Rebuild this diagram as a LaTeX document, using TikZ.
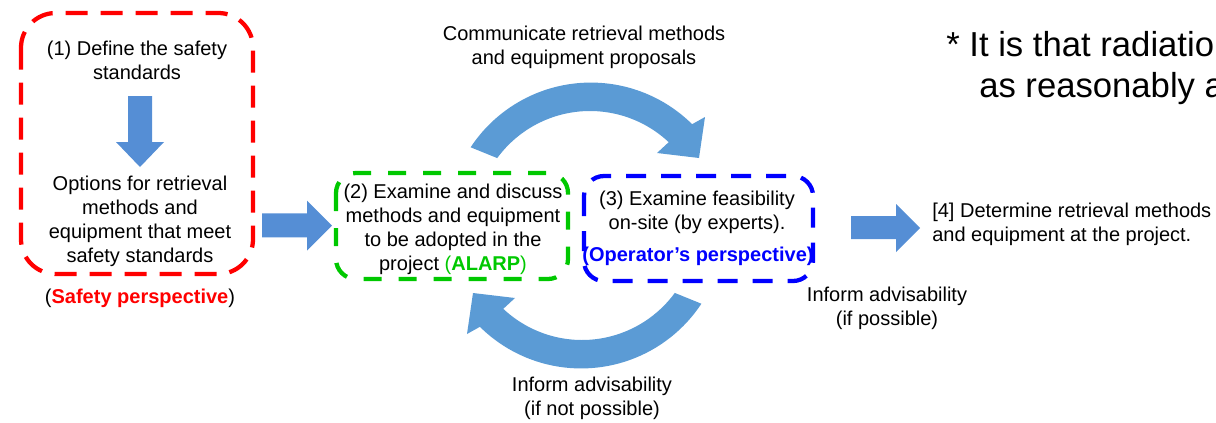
\documentclass[tikz,border=0pt]{standalone}
\usepackage{fontspec}
\setmainfont{Liberation Sans}
\usetikzlibrary{calc}
\definecolor{safetyred}{RGB}{255,0,0}
\definecolor{alarpgreen}{RGB}{0,200,0}
\definecolor{opblue}{RGB}{0,0,255}
\definecolor{arrowblue}{RGB}{85,142,213}
\definecolor{curveblue}{RGB}{91,155,213}

\begin{document}
\begin{tikzpicture}[x=0.75pt,y=-0.75pt,
  txt/.style={inner sep=0pt, align=center, font=\fontsize{15}{18}\selectfont},
  bigtxt/.style={inner sep=0pt, anchor=base west, font=\fontsize{26}{31}\selectfont},
  frame/.style={line width=3.2pt},
  redframe/.style={frame, draw=safetyred, rounded corners=26pt, dash pattern=on 16.5pt off 9.75pt},
  greenframe/.style={frame, draw=alarpgreen, rounded corners=15pt, dash pattern=on 13.5pt off 12.75pt},
  blueframe/.style={frame, draw=opblue, rounded corners=15pt, dash pattern=on 15pt off 11.25pt},
  blockarrow/.style={fill=arrowblue, draw=none},
  bendarrow/.style={fill=curveblue, draw=none}
]
\useasboundingbox (0,0) rectangle (1216,422);
\clip (0,0) rectangle (1216,422);

% dashed perspective frames
\draw[redframe] (21,13) rectangle (253,274);
\draw[greenframe] (336,173) rectangle (568,279);
\draw[blueframe] (584,176) rectangle (813,281);

% safety side
\node[txt] (define) at (137,60) {(1) Define the safety\\standards};
\node[txt] (options) at (140,221) {Options for retrieval\\methods and\\equipment that meet\\safety standards};
\node[txt] (safety) at (140,298) {(\textcolor{safetyred}{\textbf{Safety perspective}})};

% examination step
\node[txt] (examine) at (453,229) {(2) Examine and discuss\\methods and equipment\\to be adopted in the\\project \textcolor{alarpgreen}{(\textbf{ALARP})}};

% feasibility step
\node[txt] (feasible) at (697,212.5) {(3) Examine feasibility\\on-site (by experts).};
\node[txt] (operator) at (698,256) {\textcolor{opblue}{\textbf{(Operator's perspective)}}};

% decision
\node[txt, anchor=west, align=left] (decide) at (932,224.5) {[4] Determine retrieval methods\\and equipment at the project.};

% connector labels
\node[txt] (commlbl) at (584,47.5) {Communicate retrieval methods\\and equipment proposals};
\node[txt] (notlbl) at (592,398.5) {Inform advisability\\(if not possible)};
\node[txt] (oklbl) at (887,308.5) {Inform advisability\\(if possible)};

% note on ALARP
\node[bigtxt] (note1) at (946,56) {* It is that radiatio};
\node[bigtxt] (note2) at (979,97) {as reasonably a};

% straight block arrows
\fill[blockarrow] (128,96) -- (152,96) -- (152,142) -- (164,142) -- (140,167)
  -- (116,142) -- (128,142) -- cycle;
\fill[blockarrow] (262,213.3) -- (307,213.3) -- (307,200.7) -- (332,225.7)
  -- (307,250.7) -- (307,237.3) -- (262,237.3) -- cycle;
\fill[blockarrow] (851,216) -- (896,216) -- (896,204) -- (920,228)
  -- (896,252) -- (896,239) -- (851,239) -- cycle;

% curved arrow over the top: proposals go to the operator
\coordinate (topc) at (590,226);
\fill[bendarrow] ($(topc)+(213.4:143)$) arc[start angle=213.4, end angle=314.7, radius=144]
  -- (705,117) -- (699,158) -- (657,153)
  -- ($(topc)+(313.2:115)$) arc[start angle=313.2, end angle=216.2, radius=115] -- cycle;

% curved arrow underneath: feedback when not possible
\begin{scope}[rotate around={180:(586,225.5)}]
\coordinate (botc) at (590,226);
\fill[bendarrow] ($(botc)+(213.4:143)$) arc[start angle=213.4, end angle=314.7, radius=144]
  -- (705,117) -- (699,158) -- (657,153)
  -- ($(botc)+(313.2:115)$) arc[start angle=313.2, end angle=216.2, radius=115] -- cycle;
\end{scope}
\end{tikzpicture}
\end{document}
